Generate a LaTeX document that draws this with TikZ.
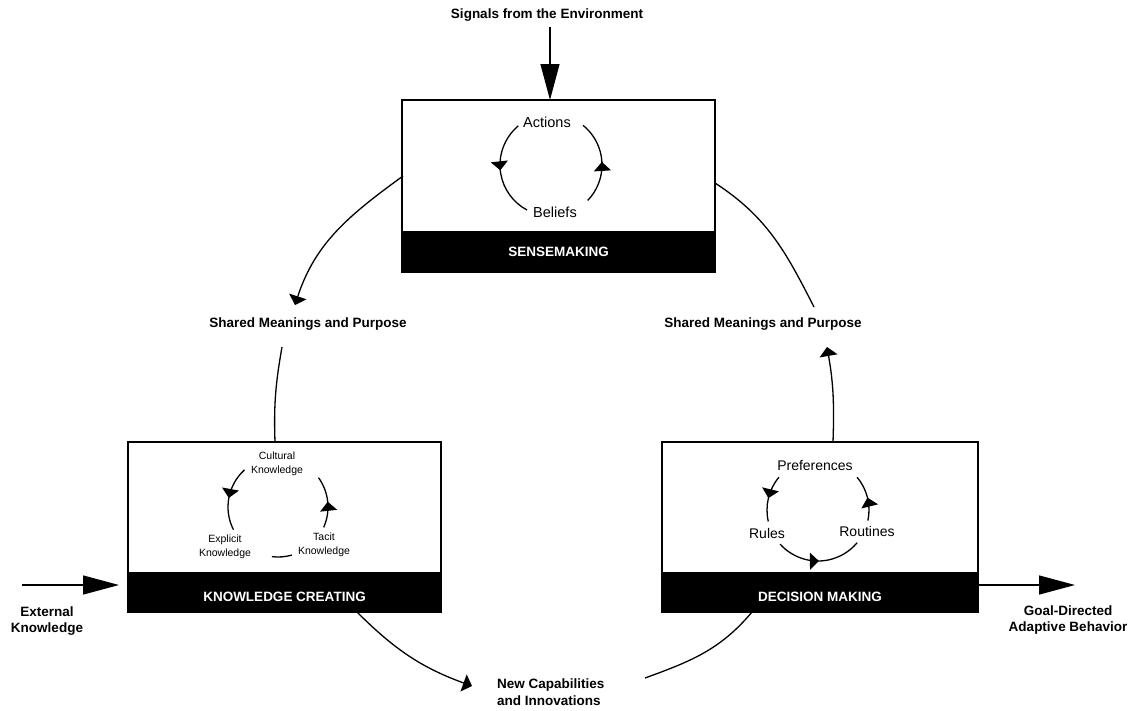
\documentclass[tikz,border=0pt]{standalone}
\usepackage{fontspec}
\setmainfont{Liberation Sans}
\usetikzlibrary{arrows.meta,decorations.markings}
\begin{document}
\begin{tikzpicture}[x=1pt,y=1pt,
  conn/.style={line width=1.3pt},
  bigarrow/.style={line width=1.3pt,-{Triangle[length=36pt,width=19pt]}},
  smallhead/.style={-{Triangle[length=9pt,width=18pt]}},
  midarrow/.style={postaction={decorate},decoration={markings,mark=at position 0.5 with {\arrow{Triangle[length=9pt,width=17pt]}}}},
  whitebox/.style={draw,line width=1.2pt,fill=white,inner sep=0,outer sep=0,anchor=north west},
  band/.style={draw,line width=1.2pt,fill=black,text=white,font=\bfseries\fontsize{13.5}{16}\selectfont,inner sep=0,outer sep=0,anchor=north west,minimum height=40pt},
  lbl/.style={font=\bfseries\fontsize{13.5}{16.5}\selectfont,align=center,inner sep=0},
  inner/.style={font=\fontsize{14.5}{17}\selectfont,inner sep=0},
  kinner/.style={font=\fontsize{10.5}{14}\selectfont,align=center,inner sep=0}
]
\useasboundingbox (0,0) rectangle (1134,-710);

% boxes
\node[whitebox,minimum width=313pt,minimum height=132pt] (smbox) at (402,-100) {};
\node[band,minimum width=313pt] (smband) at (smbox.south west) {SENSEMAKING};
\node[whitebox,minimum width=313pt,minimum height=131pt] (kcbox) at (128,-442) {};
\node[band,minimum width=313pt,minimum height=39pt,text height=18pt] (kcband) at (kcbox.south west) {KNOWLEDGE CREATING};
\node[whitebox,minimum width=316pt,minimum height=131pt] (dmbox) at (662,-442) {};
\node[band,minimum width=316pt,minimum height=39pt,text height=18pt] (dmband) at (dmbox.south west) {DECISION MAKING};

% outer labels
\node[lbl] (sig) at (547,-15) {Signals from the Environment};
\node[lbl] (shl) at (308,-324) {Shared Meanings and Purpose};
\node[lbl] (shr) at (763,-324) {Shared Meanings and Purpose};
\node[lbl] (ext) at (47,-621) {External\\Knowledge};
\node[lbl] (goal) at (1068,-620) {Goal-Directed\\Adaptive Behavior};
\node[lbl,anchor=west,align=left] (newc) at (497,-692) {New Capabilities\\and Innovations};

% inner labels
\node[inner] (act) at (547,-122) {Actions};
\node[inner] (bel) at (555,-212) {Beliefs};
\node[kinner] (cult) at (277,-464) {Cultural\\Knowledge};
\node[kinner] (expl) at (225,-547) {Explicit\\Knowledge};
\node[kinner] (tac) at (324,-545) {Tacit\\Knowledge};
\node[inner,font=\fontsize{14}{17}\selectfont] (pref) at (815,-465) {Preferences};
\node[inner,font=\fontsize{14}{17}\selectfont] (rul) at (767,-533) {Rules};
\node[inner,font=\fontsize{14}{17}\selectfont] (rout) at (867,-531) {Routines};

% coordinates for connector ends
\coordinate (sigtop) at (550,-27);
\coordinate (c1a) at (403,-176);
\coordinate (c1b) at (295,-305);
\coordinate (c2a) at (282,-347);
\coordinate (c2b) at (275,-442);
\coordinate (c3a) at (357,-612);
\coordinate (c3b) at (472,-686);
\coordinate (c4a) at (645,-678);
\coordinate (c4b) at (752,-612);
\coordinate (c5a) at (833,-442);
\coordinate (c5b) at (827,-347);
\coordinate (c6a) at (814,-307);
\coordinate (c6b) at (715,-183);
\coordinate (exta) at (22,-585);
\coordinate (extb) at (119,-585);
\coordinate (goala) at (979,-585);
\coordinate (goalb) at (1075,-585);

% big arrows
\draw[bigarrow] (sigtop) -- (sigtop |- smbox.north);
\draw[bigarrow] (exta) -- (extb);
\draw[bigarrow] (goala) -- (goalb);

% outer loop
\draw[conn,smallhead] (c1a) to[out=216,in=72] (c1b);
\draw[conn] (c2a) to[out=260,in=92] (c2b);
\draw[conn,smallhead] (c3a) to[out=-45,in=160] (c3b);
\draw[conn] (c4a) to[out=20,in=230] (c4b);
\draw[conn,smallhead] (c5a) to[out=88,in=-80] (c5b);
\draw[conn] (c6a) to[out=117,in=-33] (c6b);

% sensemaking cycle
\draw[conn,midarrow] (551,-165) ++(130:51) arc[start angle=130,end angle=242,radius=51];
\draw[conn,midarrow] (551,-165) ++(-44:51) arc[start angle=-44,end angle=51,radius=51];

% knowledge cycle
\draw[conn,midarrow] (278,-507) ++(132:50) arc[start angle=132,end angle=207,radius=50];
\draw[conn,midarrow] (278,-507) ++(-24:50) arc[start angle=-24,end angle=36,radius=50];
\draw[conn] (278,-507) ++(263:50) arc[start angle=263,end angle=286,radius=50];

% decision cycle
\draw[conn,midarrow] (818,-510) ++(140:51) arc[start angle=140,end angle=193,radius=51];
\draw[conn,midarrow] (818,-510) ++(-12:51) arc[start angle=-12,end angle=40,radius=51];
\draw[conn,midarrow] (818,-510) ++(222:51) arc[start angle=222,end angle=320,radius=51];
\end{tikzpicture}
\end{document}
